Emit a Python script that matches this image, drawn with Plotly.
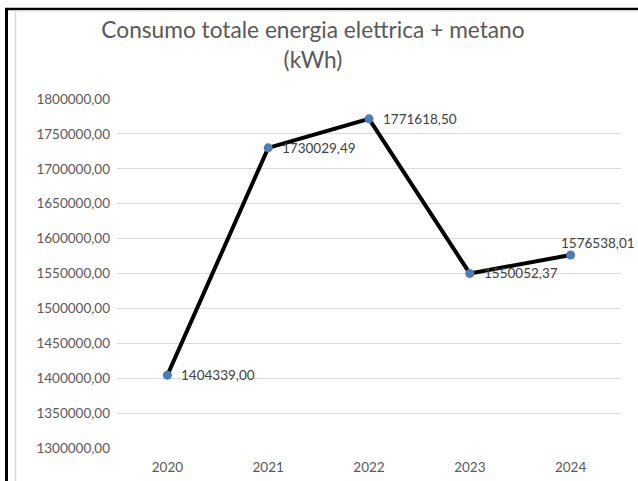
import plotly.graph_objects as go

years = ["2020", "2021", "2022", "2023", "2024"]
consumo = [1404339.00, 1730029.49, 1771618.50, 1550052.37, 1576538.01]
y_ticks = [1300000, 1350000, 1400000, 1450000, 1500000, 1550000,
           1600000, 1650000, 1700000, 1750000, 1800000]
title_text = "Consumo totale energia elettrica + metano<br>(kWh)"

W, H = 638, 481
L, R, T, B = 117, 17, 99, 33
PW, PH = W - L - R, H - T - B


def px(xp):
    return (xp - L) / PW


def py(yp):
    return (H - B - yp) / PH


def fmt(v):
    return f"{v:.2f}".replace(".", ",")


FONT = "Lato, 'Open Sans', sans-serif"
FS = 13.5

fig = go.Figure()
fig.add_trace(go.Scatter(
    x=years, y=consumo, mode="lines+markers",
    line=dict(color="#000000", width=4),
    marker=dict(color="#4A7EBB", size=9),
    hoverinfo="skip", showlegend=False,
))

annotations = []
for i, v in enumerate(consumo):
    if i < len(consumo) - 1:
        annotations.append(dict(x=i, y=v, xref="x", yref="y", text=fmt(v),
                                showarrow=False, xanchor="left", yanchor="middle",
                                xshift=12, font=dict(family=FONT, size=FS, color="#404040")))
    else:
        annotations.append(dict(x=i, y=v, xref="x", yref="y", text=fmt(v),
                                showarrow=False, xanchor="center", yanchor="bottom",
                                xshift=27, yshift=2, font=dict(family=FONT, size=FS, color="#404040")))

shapes = [
    dict(type="line", xref="paper", yref="paper", x0=px(6.5), x1=px(6.5), y0=py(8), y1=py(481),
         line=dict(color="#000000", width=3)),
    dict(type="line", xref="paper", yref="paper", x0=px(5), x1=px(638), y0=py(9), y1=py(9),
         line=dict(color="#000000", width=2.5)),
    dict(type="line", xref="paper", yref="paper", x0=px(15.5), x1=px(15.5), y0=py(10.5), y1=py(481),
         line=dict(color="#D9D9D9", width=1.5)),
    dict(type="line", xref="paper", yref="paper", x0=px(15), x1=px(638), y0=py(10.8), y1=py(10.8),
         line=dict(color="#D9D9D9", width=1.5)),
]

fig.update_layout(
    width=W, height=H,
    margin=dict(l=L, r=R, t=T, b=B, pad=0, autoexpand=False),
    paper_bgcolor="#FFFFFF", plot_bgcolor="#FFFFFF",
    separators=",.",
    title=dict(text=title_text, x=313 / W, xanchor="center", y=1 - 38 / H, yanchor="middle",
               xref="container", yref="container", automargin=False,
               font=dict(family=FONT, size=22.7, color="#595959")),
    xaxis=dict(type="category", range=[-0.5, 4.5], showgrid=False, zeroline=False,
               showline=False, ticks="", automargin=False,
               tickfont=dict(family=FONT, size=FS, color="#595959"),
               ticklabelstandoff=9),
    yaxis=dict(range=[1300000, 1800000], tickvals=y_ticks, tickformat=".2f",
               showgrid=True, gridcolor="#D9D9D9", gridwidth=1, zeroline=False,
               showline=False, ticks="", automargin=False,
               tickfont=dict(family=FONT, size=FS, color="#595959"),
               ticklabelstandoff=6),
    annotations=annotations,
    shapes=shapes,
    font=dict(family=FONT, color="#595959"),
)

fig.write_html("out.html", config={"displayModeBar": False},
               post_script="document.body.style.margin='0';document.body.style.overflow='hidden';")
